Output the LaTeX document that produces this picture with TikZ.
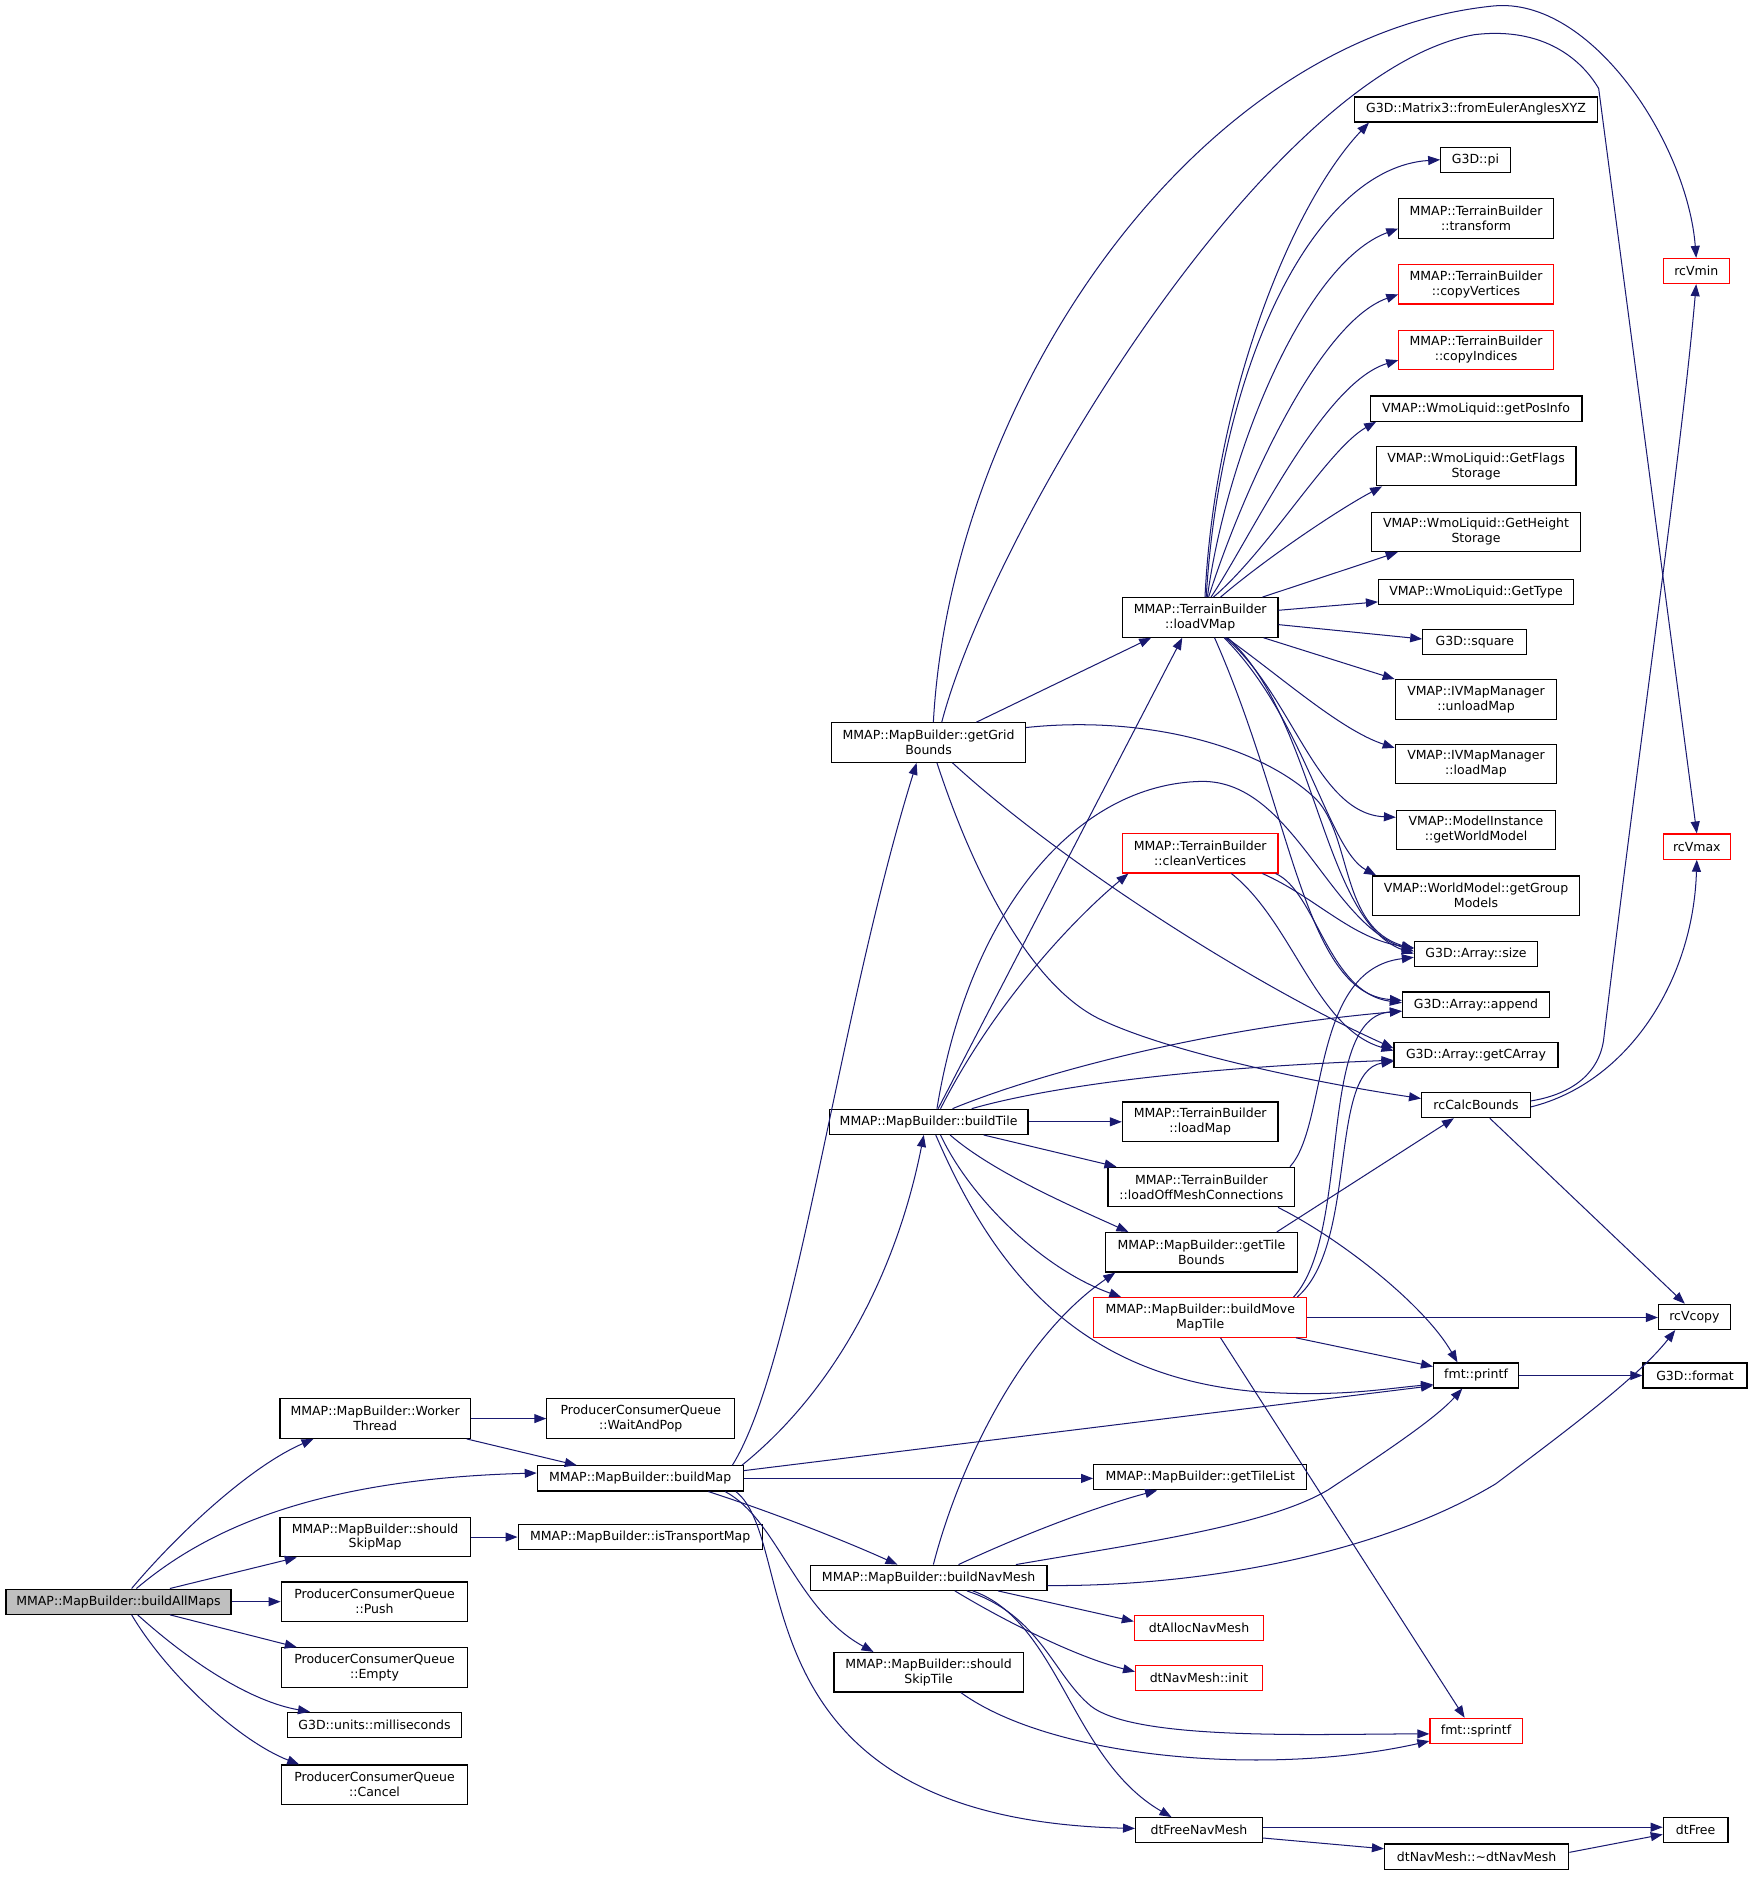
\documentclass[tikz,border=0pt]{standalone}
\usepackage{fontspec}
\setmainfont{DejaVu Sans}
\usetikzlibrary{arrows.meta}
\definecolor{edgec}{HTML}{191970}
\definecolor{bamfill}{HTML}{BFBFBF}
\tikzset{
  box/.style={draw=black, line width=1bp, rectangle, inner sep=0pt, align=center,
    font=\fontsize{10.5pt}{12.55pt}\selectfont},
  rbox/.style={box, draw=red},
  wh/.style 2 args={minimum width=#1bp, minimum height=#2bp},
  e/.style={draw=edgec, color=edgec, line width=0.85bp, -{Triangle[length=10bp,width=7.5bp]}}
}
\begin{document}
\begin{tikzpicture}[x=1bp,y=-1bp]
\useasboundingbox (0,0) rectangle (1465,1568.6);
% left column
\node[box, wh={188}{21}, fill=bamfill] (bam) at (99,1338.5) {MMAP::MapBuilder::buildAllMaps};
\node[box, wh={159}{33}] (wt) at (313.5,1185.5) {MMAP::MapBuilder::Worker\\Thread};
\node[box, wh={157}{33}] (wap) at (535.5,1185.5) {ProducerConsumerQueue\\::WaitAndPop};
\node[box, wh={172}{21}] (bmap) at (535,1235.5) {MMAP::MapBuilder::buildMap};
\node[box, wh={159}{33}] (ssm) at (313.5,1284.5) {MMAP::MapBuilder::should\\SkipMap};
\node[box, wh={204}{21}] (itm) at (535,1284.5) {MMAP::MapBuilder::isTransportMap};
\node[box, wh={156}{33}] (push) at (313,1338.5) {ProducerConsumerQueue\\::Push};
\node[box, wh={156}{33}] (empty) at (313,1393.5) {ProducerConsumerQueue\\::Empty};
\node[box, wh={146}{21}] (ms) at (313,1441.5) {G3D::units::milliseconds};
\node[box, wh={156}{33}] (cancel) at (313,1491.5) {ProducerConsumerQueue\\::Cancel};
% second column
\node[box, wh={162}{33}] (ggb) at (776,620.5) {MMAP::MapBuilder::getGrid\\Bounds};
\node[box, wh={166}{21}] (btile) at (776,937.5) {MMAP::MapBuilder::buildTile};
\node[box, wh={198}{21}] (bnm) at (776,1318.5) {MMAP::MapBuilder::buildNavMesh};
\node[box, wh={158}{33}] (sst) at (776,1397.5) {MMAP::MapBuilder::should\\SkipTile};
% third column
\node[box, wh={130}{33}] (lvm) at (1003,516) {MMAP::TerrainBuilder\\::loadVMap};
\node[rbox, wh={130}{33}] (cv) at (1003,713) {MMAP::TerrainBuilder\\::cleanVertices};
\node[box, wh={130}{33}] (tblm) at (1003,937.5) {MMAP::TerrainBuilder\\::loadMap};
\node[box, wh={156}{33}] (lomc) at (1004,992) {MMAP::TerrainBuilder\\::loadOffMeshConnections};
\node[box, wh={160}{33}] (gtb) at (1004,1046.5) {MMAP::MapBuilder::getTile\\Bounds};
\node[rbox, wh={178}{33}] (bmmt) at (1003,1101) {MMAP::MapBuilder::buildMove\\MapTile};
\node[box, wh={178}{21}] (gtl) at (1003,1234.5) {MMAP::MapBuilder::getTileList};
\node[rbox, wh={108}{21}] (dtan) at (1002,1360.5) {dtAllocNavMesh};
\node[rbox, wh={106}{21}] (dtni) at (1002,1402.5) {dtNavMesh::init};
\node[box, wh={106}{21}] (dtfnm) at (1002,1529.5) {dtFreeNavMesh};
% fourth column
\node[box, wh={203}{21}] (feu) at (1233.5,91.5) {G3D::Matrix3::fromEulerAnglesXYZ};
\node[box, wh={58}{21}] (pi) at (1233,133.5) {G3D::pi};
\node[box, wh={129}{33}] (tr) at (1233.5,182.5) {MMAP::TerrainBuilder\\::transform};
\node[rbox, wh={129}{33}] (cpv) at (1233.5,237.5) {MMAP::TerrainBuilder\\::copyVertices};
\node[rbox, wh={129}{33}] (cpi) at (1233.5,292.5) {MMAP::TerrainBuilder\\::copyIndices};
\node[box, wh={177}{21}] (gpi) at (1233.5,341.5) {VMAP::WmoLiquid::getPosInfo};
\node[box, wh={167}{33}] (gfs) at (1233.5,389.5) {VMAP::WmoLiquid::GetFlags\\Storage};
\node[box, wh={175}{33}] (ghs) at (1233.5,444.5) {VMAP::WmoLiquid::GetHeight\\Storage};
\node[box, wh={163}{21}] (gty) at (1233.5,494.5) {VMAP::WmoLiquid::GetType};
\node[box, wh={87}{21}] (sq) at (1232.5,536.5) {G3D::square};
\node[box, wh={135}{33}] (ulm) at (1233.5,584.5) {VMAP::IVMapManager\\::unloadMap};
\node[box, wh={135}{33}] (ivlm) at (1233.5,638.5) {VMAP::IVMapManager\\::loadMap};
\node[box, wh={133}{33}] (gwm) at (1233.5,693.5) {VMAP::ModelInstance\\::getWorldModel};
\node[box, wh={173}{33}] (ggm) at (1233.5,748.5) {VMAP::WorldModel::getGroup\\Models};
\node[box, wh={103}{21}] (asz) at (1233.5,797.5) {G3D::Array::size};
\node[box, wh={123}{21}] (aap) at (1233.5,839.5) {G3D::Array::append};
\node[box, wh={137}{21}] (aca) at (1233.5,881.5) {G3D::Array::getCArray};
\node[box, wh={91}{21}] (rccb) at (1233.5,923.5) {rcCalcBounds};
\node[box, wh={71}{21}] (prf) at (1233.5,1149.5) {fmt::printf};
\node[rbox, wh={77}{21}] (spf) at (1233.5,1446.5) {fmt::sprintf};
\node[box, wh={154}{21}] (dtnd) at (1234,1551.5) {dtNavMesh::\textasciitilde dtNavMesh};
% fifth column
\node[rbox, wh={55}{21}] (rcvmin) at (1417.5,226.5) {rcVmin};
\node[rbox, wh={56}{21}] (rcvmax) at (1418,707.5) {rcVmax};
\node[box, wh={60}{21}] (rcvc) at (1416,1100.5) {rcVcopy};
\node[box, wh={87}{21}] (fmtg) at (1416.5,1149.5) {G3D::format};
\node[box, wh={54}{21}] (dtf) at (1417,1529.5) {dtFree};

% buildAllMaps
\draw[e] (bam.north -| 110,0) .. controls (150,1280) and (210,1225) .. (wt.south -| 262,0);
\draw[e] (bam.north -| 114,0) .. controls (170,1280) and (260,1236) .. (bmap.west |- 0,1231);
\draw[e] (bam.north -| 142,0) -- (ssm.south -| 248,0);
\draw[e] (bam.east) -- (push.west |- bam.east);
\draw[e] (bam.south -| 142,0) -- (empty.north -| 248,0);
\draw[e] (bam.south -| 115,0) .. controls (160,1390) and (210,1422) .. (ms.north -| 259,0);
\draw[e] (bam.south -| 110,0) .. controls (140,1400) and (200,1455) .. (cancel.north -| 250,0);
\draw[e] (wt.east) -- (wap.west);
\draw[e] (wt.south -| 390,0) -- (bmap.north -| 482,0);
\draw[e] (ssm.east) -- (itm.west);
% buildMap
\draw[e] (bmap.north -| 612,0) .. controls (665,1140) and (700,850) .. (ggb.south -| 766,0);
\draw[e] (bmap.north -| 620,0) .. controls (700,1160) and (750,1060) .. (btile.south -| 772,0);
\draw[e] (bmap.east |- 0,1229) -- (prf.west |- 0,1158);
\draw[e] (bmap.east) -- (gtl.west |- bmap.east);
\draw[e] (bmap.south -| 592,0) .. controls (640,1262) and (700,1285) .. (bnm.north -| 750,0);
\draw[e] (bmap.south -| 606,0) .. controls (650,1270) and (665,1345) .. (sst.north -| 730,0);
\draw[e] (bmap.south -| 615,0) .. controls (670,1290) and (610,1520) .. (dtfnm.west |- 0,1528);
% getGridBounds
\draw[e] (ggb.north -| 816,0) -- (lvm.south -| 962,0);
\draw[e] (ggb.north -| 780,0) .. controls (795,330) and (1000,30) .. (1248,5) .. controls (1330,-3) and (1410,120) .. (rcvmin.north);
\draw[e] (ggb.north -| 787,0) .. controls (830,440) and (1060,60) .. (1232,29) .. controls (1290,22) and (1322,50) .. (1336,74) -- (rcvmax.north);
\draw[e] (ggb.east |- 0,608) .. controls (950,598) and (1050,620) .. (1100,668) .. controls (1130,700) and (1120,775) .. (asz.west |- 0,793);
\draw[e] (ggb.south -| 796,0) .. controls (880,715) and (1040,820) .. (aca.west |- 0,876);
\draw[e] (ggb.south -| 783,0) .. controls (820,750) and (870,830) .. (922,853) .. controls (980,880) and (1100,905) .. (rccb.west |- 0,918);
% buildTile
\draw[e] (btile.north -| 784,0) -- (lvm.south -| 988,0);
\draw[e] (btile.north -| 786,0) .. controls (830,840) and (895,770) .. (cv.south -| 943,0);
\draw[e] (btile.north -| 783,0) .. controls (810,760) and (900,655) .. (1004,653) .. controls (1080,652) and (1110,770) .. (asz.west |- 0,795);
\draw[e] (btile.north -| 796,0) .. controls (860,900) and (1000,860) .. (aap.west |- 0,845);
\draw[e] (btile.north -| 812,0) .. controls (870,910) and (980,893) .. (aca.west |- 0,886);
\draw[e] (btile.east) -- (tblm.west |- btile.east);
\draw[e] (btile.south -| 822,0) -- (lomc.north -| 933,0);
\draw[e] (btile.south -| 794,0) .. controls (830,980) and (900,1010) .. (gtb.north -| 943,0);
\draw[e] (btile.south -| 786,0) .. controls (810,1000) and (870,1060) .. (bmmt.north -| 937,0);
\draw[e] (btile.south -| 782,0) .. controls (830,1060) and (900,1150) .. (1050,1163) .. controls (1120,1168) and (1160,1160) .. (prf.west |- 0,1157);
% loadVMap
\draw[e] (lvm.north -| 1007,0) .. controls (1015,330) and (1080,170) .. (feu.south -| 1144,0);
\draw[e] (lvm.north -| 1008,0) .. controls (1020,300) and (1100,140) .. (pi.west);
\draw[e] (lvm.north -| 1009,0) .. controls (1025,380) and (1090,220) .. (tr.west |- 0,191);
\draw[e] (lvm.north -| 1010,0) .. controls (1035,420) and (1100,270) .. (cpv.west |- 0,246);
\draw[e] (lvm.north -| 1012,0) .. controls (1045,450) and (1105,320) .. (cpi.west |- 0,301);
\draw[e] (lvm.north -| 1014,0) .. controls (1060,460) and (1110,375) .. (gpi.south -| 1150,0);
\draw[e] (lvm.north -| 1020,0) .. controls (1060,465) and (1120,425) .. (gfs.south -| 1155,0);
\draw[e] (lvm.north -| 1055,0) -- (ghs.south -| 1168,0);
\draw[e] (lvm.east |- 0,510) -- (gty.west |- 0,503);
\draw[e] (lvm.east |- 0,522) -- (sq.west |- 0,534);
\draw[e] (lvm.south -| 1056,0) -- (ulm.north west);
\draw[e] (lvm.south -| 1025,0) .. controls (1070,565) and (1120,610) .. (ivlm.west |- 0,625);
\draw[e] (lvm.south -| 1024,0) .. controls (1080,580) and (1100,680) .. (gwm.west |- 0,683);
\draw[e] (lvm.south -| 1023,0) .. controls (1090,600) and (1110,710) .. (ggm.north -| 1150,0);
\draw[e] (lvm.south -| 1026,0) .. controls (1100,600) and (1105,770) .. (asz.west |- 0,797);
\draw[e] (lvm.south -| 1015,0) .. controls (1080,680) and (1090,830) .. (aap.west |- 0,836);
% cleanVertices
\draw[e] (cv.south -| 1055,0) .. controls (1100,750) and (1130,785) .. (asz.west |- 0,792);
\draw[e] (cv.south -| 1066,0) .. controls (1100,745) and (1110,830) .. (aap.west |- 0,838);
\draw[e] (cv.south -| 1029,0) .. controls (1080,770) and (1100,860) .. (aca.west |- 0,878);
% loadOffMeshConnections
\draw[e] (lomc.north -| 1078,0) .. controls (1110,940) and (1095,810) .. (asz.west |- 0,800);
\draw[e] (lomc.south -| 1068,0) .. controls (1120,1035) and (1190,1090) .. (prf.north -| 1218,0);
% getTileBounds
\draw[e] (gtb.north -| 1067,0) -- (rccb.south -| 1215,0);
% buildMoveMapTile
\draw[e] (bmmt.north -| 1081,0) .. controls (1130,1030) and (1100,850) .. (aap.west |- 0,845);
\draw[e] (bmmt.north -| 1084,0) .. controls (1135,1040) and (1110,895) .. (aca.west |- 0,887);
\draw[e] (bmmt.east) -- (rcvc.west |- bmmt.east);
\draw[e] (bmmt.south -| 1083,0) -- (prf.west |- 0,1142);
\draw[e] (bmmt.south -| 1020,0) -- (spf.north -| 1224,0);
% rcCalcBounds
\draw[e] (rccb.east |- 0,920) .. controls (1310,915) and (1335,900) .. (1340,870) .. controls (1370,620) and (1405,380) .. (rcvmin.south);
\draw[e] (rccb.east |- 0,925) .. controls (1360,905) and (1415,820) .. (rcvmax.south);
\draw[e] (rccb.south -| 1245,0) -- (rcvc.north -| 1408,0);
% printf
\draw[e] (prf.east) -- (fmtg.west);
% buildNavMesh
\draw[e] (bnm.north -| 780,0) .. controls (800,1230) and (850,1120) .. (gtb.south -| 932,0);
\draw[e] (bnm.north -| 801,0) .. controls (860,1280) and (920,1258) .. (gtl.south -| 967,0);
\draw[e] (bnm.north -| 849,0) .. controls (950,1290) and (1060,1275) .. (1110,1245) .. controls (1160,1212) and (1200,1185) .. (prf.south -| 1222,0);
\draw[e] (bnm.east |- 0,1325) .. controls (1000,1326) and (1150,1300) .. (1250,1240) .. controls (1310,1195) and (1370,1150) .. (rcvc.south -| 1400,0);
\draw[e] (bnm.south -| 834,0) -- (dtan.west |- 0,1355);
\draw[e] (bnm.south -| 798,0) .. controls (840,1355) and (900,1385) .. (dtni.west |- 0,1397);
\draw[e] (bnm.south -| 808,0) .. controls (870,1350) and (880,1400) .. (912,1426) .. controls (950,1455) and (1100,1449) .. (spf.west |- 0,1449);
\draw[e] (bnm.south -| 813,0) .. controls (885,1355) and (895,1470) .. (dtfnm.north -| 979,0);
% shouldSkipTile
\draw[e] (sst.south -| 803,0) .. controls (880,1470) and (1060,1485) .. (spf.west |- 0,1455);
% dtFreeNavMesh
\draw[e] (dtfnm.east |- 0,1527) -- (dtf.west |- 0,1527);
\draw[e] (dtfnm.east |- 0,1536) -- (dtnd.west |- 0,1545);
\draw[e] (dtnd.east |- 0,1548) -- (dtf.west |- 0,1533);
\end{tikzpicture}
\end{document}
